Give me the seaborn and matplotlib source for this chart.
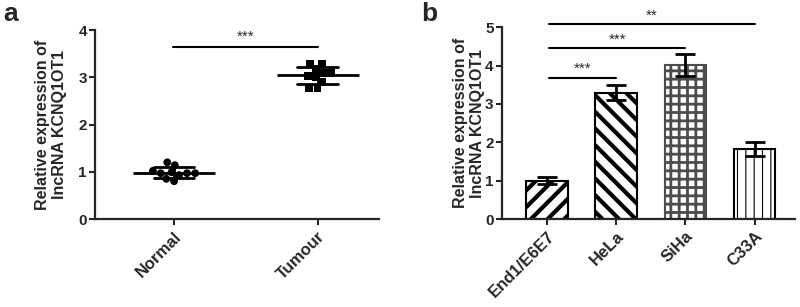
import numpy as np
import pandas as pd
import matplotlib
matplotlib.use("Agg")
import matplotlib.pyplot as plt
from matplotlib.markers import MarkerStyle
import seaborn as sns

sns.set_style("ticks")
plt.rcParams['font.family'] = ['Liberation Sans', 'DejaVu Sans']
plt.rcParams['font.weight'] = 'bold'
plt.rcParams['axes.labelweight'] = 'bold'
plt.rcParams['hatch.linewidth'] = 2.5

# ---------------- data ----------------
groups_a = ["Normal", "Tumour"]
normal_vals = [0.97, 0.97, 0.93, 1.20, 0.97, 1.14, 1.02, 0.85, 0.99, 0.80]
tumour_vals = [3.03, 3.00, 2.90, 3.28, 3.09, 2.77, 3.28, 3.17, 2.77, 3.09]
sig_a_level = 3.64
sig_a_label = "***"

cells_b = ["End1/E6E7", "HeLa", "SiHa", "C33A"]
means_b = [1.00, 3.29, 4.01, 1.82]
errs_b = [0.10, 0.19, 0.28, 0.19]
sig_b_targets = ["HeLa", "SiHa", "C33A"]
sig_b_levels = [3.67, 4.45, 5.07]
sig_b_labels = ["***", "***", "**"]

ylabel = "Relative expression of\nlncRNA KCNQ1OT1"

df_a = pd.DataFrame({
    "group": [groups_a[0]] * len(normal_vals) + [groups_a[1]] * len(tumour_vals),
    "value": normal_vals + tumour_vals,
})
df_b = pd.DataFrame({"cell": cells_b, "mean": means_b, "err": errs_b})

fig = plt.figure(figsize=(8.0, 3.07), dpi=100)
ax_a = fig.add_axes([0.119, 0.2866, 0.355, 0.6156])
ax_b = fig.add_axes([0.6275, 0.2866, 0.366, 0.625])

# ---------------- panel a ----------------
sns.swarmplot(data=df_a, x="group", y="value", hue="group", order=groups_a,
              palette=["black", "black"], size=5.6, legend=False, ax=ax_a)
for coll, mk in zip(ax_a.collections, ["o", "s"]):
    m = MarkerStyle(mk)
    coll.set_paths([m.get_path().transformed(m.get_transform())])
sns.pointplot(data=df_a, x="group", y="value", order=groups_a, errorbar="sd",
              capsize=0.28, linestyle="none", marker="_", markersize=59,
              markeredgewidth=2, color="black", err_kws={"linewidth": 2}, ax=ax_a)
ax_a.set_xlim(-0.55, 1.43)
ax_a.set_ylim(0, 4)
ax_a.set_yticks([0, 1, 2, 3, 4])
ax_a.set_xlabel("")
ax_a.set_ylabel(ylabel, fontsize=11.5, linespacing=1.15)
ax_a.yaxis.set_label_coords(-0.100, 0.5)
ax_a.plot([-0.01, 1.0], [sig_a_level, sig_a_level], color="black", lw=1.5)
ax_a.text(0.5, sig_a_level + 0.06, sig_a_label, ha="center", va="bottom",
          fontsize=11, fontweight="normal")

# ---------------- panel b ----------------
sns.barplot(data=df_b, x="cell", y="mean", order=cells_b, color="white",
            edgecolor="black", linewidth=1.5, width=0.6, errorbar=None, ax=ax_b)
hatches = ["//", "\\\\", "++", "||"]
hatch_lw = [3.0, 3.0, 2.0, 0.8]
edgecols = ["black", "black", "#4d4d4d", "black"]
for p, h, hl, ec in zip(ax_b.patches, hatches, hatch_lw, edgecols):
    p.set_hatch(h)
    p.set_edgecolor(ec)
    if hasattr(p, "set_hatch_linewidth"):
        p.set_hatch_linewidth(hl)
ax_b.errorbar(x=np.arange(len(cells_b)), y=df_b["mean"], yerr=df_b["err"],
              fmt="none", ecolor="black", elinewidth=2, capsize=7.2, capthick=2)
ax_b.set_xlim(-0.65, 3.58)
ax_b.set_ylim(0, 5)
ax_b.set_yticks([0, 1, 2, 3, 4, 5])
ax_b.set_xlabel("")
ax_b.set_ylabel(ylabel, fontsize=11.5, linespacing=1.15)
ax_b.yaxis.set_label_coords(-0.058, 0.5)
for tgt, lvl, lab in zip(sig_b_targets, sig_b_levels, sig_b_labels):
    xi = cells_b.index(tgt)
    ax_b.plot([0.03, xi], [lvl, lvl], color="black", lw=1.5, clip_on=False)
    ax_b.text((0.03 + xi) / 2, lvl + 0.05, lab, ha="center", va="bottom",
              fontsize=11, fontweight="normal", clip_on=False)

for ax in (ax_a, ax_b):
    sns.despine(ax=ax)
    for s in ("left", "bottom"):
        ax.spines[s].set_linewidth(1.6)
    ax.tick_params(axis="both", width=1.5, length=4, pad=2)
    ax.tick_params(axis="y", labelsize=11)
    ax.tick_params(axis="x", labelsize=12, pad=3)
    for lbl in ax.get_xticklabels():
        lbl.set_rotation(45)
        lbl.set_ha("right")
        lbl.set_va("top")
        lbl.set_rotation_mode("anchor")
        lbl.set_fontweight("bold")
    for lbl in ax.get_yticklabels():
        lbl.set_fontweight("bold")

fig.text(0.004, 0.995, "a", fontsize=19, fontweight="bold", va="top", ha="left")
fig.text(0.526, 0.995, "b", fontsize=19, fontweight="bold", va="top", ha="left")

fig.savefig("out.png", dpi=100, facecolor="white")
